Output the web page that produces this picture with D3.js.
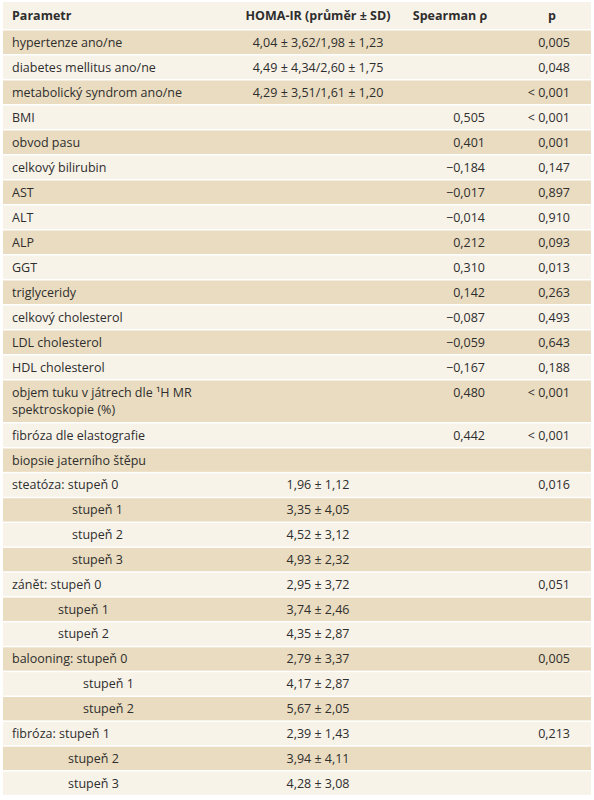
<!DOCTYPE html><html><head><meta charset="utf-8"><script src="https://d3js.org/d3.v7.min.js"></script>
<style>body{margin:0;background:#fff}</style></head><body><svg id="c" width="594" height="800"></svg>
<script>
const headers=["Parametr","HOMA-IR (průměr ± SD)","Spearman ρ","p"];
const params=["hypertenze ano/ne","diabetes mellitus ano/ne","metabolický syndrom ano/ne","BMI","obvod pasu","celkový bilirubin","AST","ALT","ALP","GGT","triglyceridy","celkový cholesterol","LDL cholesterol","HDL cholesterol","objem tuku v játrech dle ¹H MR|spektroskopie (%)","fibróza dle elastografie","biopsie jaterního štěpu","steatóza: stupeň 0","stupeň 1","stupeň 2","stupeň 3","zánět: stupeň 0","stupeň 1","stupeň 2","balooning: stupeň 0","stupeň 1","stupeň 2","fibróza: stupeň 1","stupeň 2","stupeň 3"];
const indent=[0,0,0,0,0,0,0,0,0,0,0,0,0,0,0,0,0,0,60,60,60,0,46,46,0,71,71,0,56,56];
const homa=["4,04 ± 3,62/1,98 ± 1,23","4,49 ± 4,34/2,60 ± 1,75","4,29 ± 3,51/1,61 ± 1,20","","","","","","","","","","","","","","","1,96 ± 1,12","3,35 ± 4,05","4,52 ± 3,12","4,93 ± 2,32","2,95 ± 3,72","3,74 ± 2,46","4,35 ± 2,87","2,79 ± 3,37","4,17 ± 2,87","5,67 ± 2,05","2,39 ± 1,43","3,94 ± 4,11","4,28 ± 3,08"];
const rho=["","","","0,505","0,401","−0,184","−0,017","−0,014","0,212","0,310","0,142","−0,087","−0,059","−0,167","0,480","0,442","","","","","","","","","","","","","",""];
const pval=["0,005","0,048","< 0,001","< 0,001","0,001","0,147","0,897","0,910","0,093","0,013","0,263","0,493","0,643","0,188","< 0,001","< 0,001","","0,016","","","","0,051","","","0,005","","","0,213","",""];
const svg=d3.select("#c"),font="'Open Sans', sans-serif";
const tops=[];let y=29.5;
params.forEach((p,i)=>{const h=i==14?43:(i<16?25:24.85);tops.push([y,h]);y+=h;});
svg.append("rect").attr("x",3).attr("y",2).attr("width",588).attr("height",27).attr("fill","#f8f3e9");
const g=svg.append("g").style("font-family",font).style("font-size","12.5px").attr("fill","#2e2e2e");
const hy=20;
g.append("text").attr("x",12).attr("y",hy).attr("font-weight","bold").text(headers[0]);
g.append("text").attr("x",318).attr("y",hy).attr("text-anchor","middle").attr("font-weight","bold").text(headers[1]);
g.append("text").attr("x",450).attr("y",hy).attr("text-anchor","middle").attr("font-weight","bold").text(headers[2]);
g.append("text").attr("x",552).attr("y",hy).attr("text-anchor","middle").attr("font-weight","bold").text(headers[3]);
params.forEach((p,i)=>{
 const [t,h]=tops[i];
 svg.insert("rect","g").attr("x",3).attr("y",t+1).attr("width",588).attr("height",h-1.5).attr("fill",i%2==0?"#eadcc0":"#f8f3e9");
 const by=t+17;
 const lines=p.split("|");
 lines.forEach((l,k)=>g.append("text").attr("x",12+indent[i]).attr("y",by+k*17).text(l));
 if(homa[i])g.append("text").attr("x",318).attr("y",by).attr("text-anchor","middle").text(homa[i]);
 if(rho[i])g.append("text").attr("x",485).attr("y",by).attr("text-anchor","end").text(rho[i]);
 if(pval[i])g.append("text").attr("x",570).attr("y",by).attr("text-anchor","end").text(pval[i]);
});
</script></body></html>
